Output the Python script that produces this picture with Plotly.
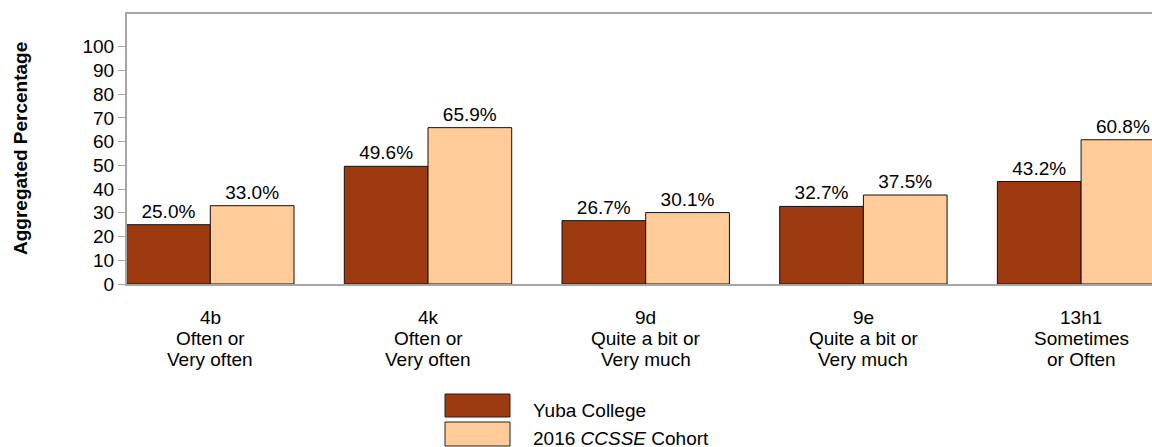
import plotly.graph_objects as go

categories = ["4b", "4k", "9d", "9e", "13h1"]
cat_lines = [
    ["4b", "Often or", "Very often"],
    ["4k", "Often or", "Very often"],
    ["9d", "Quite a bit or", "Very much"],
    ["9e", "Quite a bit or", "Very much"],
    ["13h1", "Sometimes", "or Often"],
]
college_values = [25.0, 49.6, 26.7, 32.7, 43.2]
cohort_values = [33.0, 65.9, 30.1, 37.5, 60.8]
series_names = ["Yuba College", "2016 <i>CCSSE</i> Cohort"]
y_ticks = [0, 10, 20, 30, 40, 50, 60, 70, 80, 90, 100]

DARK = "#9D3A0F"
LIGHT = "#FFCC99"
FONT = "Arial, Liberation Sans, sans-serif"
W, H = 1152, 447
ML, MR, MT, MB = 127, 0, 14, 163
PW = W - ML - MR
PH = H - MT - MB
BOTTOM = H - MB  # in figure pixels


def px_x(p):  # screen pixel -> paper x
    return (p - ML) / PW


def px_y(p):  # screen pixel -> paper y
    return (BOTTOM - p) / PH


fig = go.Figure()
for vals, color, name in [(college_values, DARK, series_names[0]),
                          (cohort_values, LIGHT, series_names[1])]:
    fig.add_trace(go.Bar(
        x=categories, y=vals, name=name,
        marker=dict(color=color, line=dict(color="#111111", width=1)),
        text=[f"{v:.1f}%" for v in vals],
        textposition="outside",
        textfont=dict(family=FONT, size=19, color="#000000"),
        constraintext="none",
        cliponaxis=False,
        showlegend=False,
        hoverinfo="skip",
    ))

annotations = []
# category labels (three lines each)
for cat, lines in zip(categories, cat_lines):
    for i, line in enumerate(lines):
        annotations.append(dict(
            x=cat, xref="x", y=0, yref="paper",
            text=line, showarrow=False,
            xanchor="center", yanchor="middle",
            yshift=-((317 + 21 * i) - BOTTOM),
            font=dict(family=FONT, size=19, color="#000000"),
        ))

# y axis title
annotations.append(dict(
    x=px_x(20), xref="paper", y=0.5, yref="paper",
    text="<b>Aggregated Percentage</b>", textangle=-90, showarrow=False,
    xanchor="center", yanchor="middle",
    font=dict(family=FONT, size=19, color="#000000"),
))

# legend texts
legend_y = [410, 439]
for name, yc in zip(series_names, legend_y):
    annotations.append(dict(
        x=px_x(531), xref="paper", y=px_y(yc), yref="paper",
        text=name, showarrow=False, xanchor="left", yanchor="middle",
        font=dict(family=FONT, size=19, color="#000000"),
    ))

shapes = []
for (y0, y1), color in zip([(394, 417), (422, 446)], [DARK, LIGHT]):
    shapes.append(dict(
        type="rect", xref="paper", yref="paper",
        x0=px_x(445), x1=px_x(510), y0=px_y(y1), y1=px_y(y0),
        fillcolor=color, line=dict(color="#222222", width=1),
    ))

fig.update_layout(
    width=W, height=H,
    margin=dict(l=ML, r=MR, t=MT, b=MB, pad=0),
    paper_bgcolor="white", plot_bgcolor="white",
    barmode="group", bargap=0.231, bargroupgap=0,
    font=dict(family=FONT, size=19, color="#000000"),
    annotations=annotations, shapes=shapes,
    showlegend=False,
    xaxis=dict(
        type="category", range=[-0.3827, 4.3257],
        showticklabels=False, ticks="",
        showline=True, linecolor="#A6A6A6", linewidth=2, mirror=True,
        showgrid=False, zeroline=False,
    ),
    yaxis=dict(
        range=[0, 113.8], tickvals=y_ticks,
        ticks="outside", ticklen=7, tickcolor="#A6A6A6", tickwidth=1,
        showline=True, linecolor="#A6A6A6", linewidth=2,
        showgrid=False, zeroline=False,
        tickfont=dict(family=FONT, size=19, color="#000000"),
    ),
)

fig.write_html(
    "out.html",
    config={"displayModeBar": False},
    post_script="document.body.style.margin='0';document.body.style.overflow='hidden';",
)
